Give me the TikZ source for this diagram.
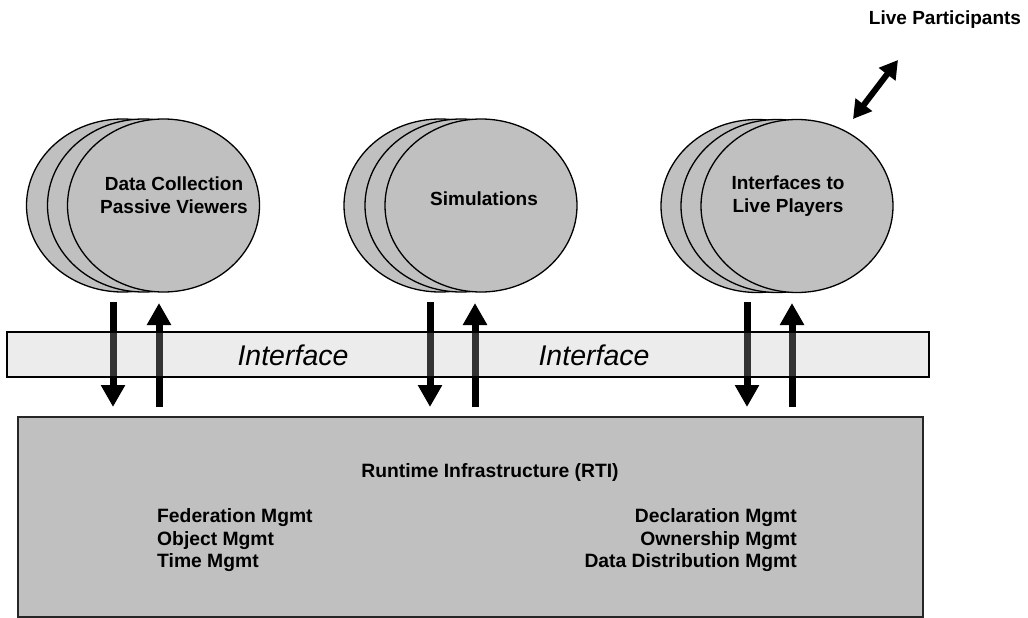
\documentclass[tikz,border=0pt]{standalone}
\usepackage{fontspec}
\setmainfont{Liberation Sans}
\usetikzlibrary{shapes.geometric,arrows.meta}
\definecolor{fedgray}{HTML}{C0C0C0}
\tikzset{
  fed/.style={ellipse, draw=black, line width=1.3pt, fill=fedgray, minimum width=192pt, minimum height=173pt, inner sep=0pt},
  lbl/.style={font=\fontsize{19}{23}\selectfont\bfseries, align=center, inner sep=0pt},
  rtitxt/.style={font=\fontsize{19.3}{22.5}\selectfont\bfseries, inner sep=0pt},
  flow/.style={line width=7pt, -{Triangle[width=23pt,length=22pt]}},
  both/.style={line width=6pt, {Triangle[width=20pt,length=18pt]}-{Triangle[width=20pt,length=18pt]}},
}
\begin{document}
\begin{tikzpicture}[x=1pt,y=-1pt]
\useasboundingbox (0,0) rectangle (1028,618);

% federates
\node[fed] (dc3) at (122.5,205.5) {};
\node[fed] (dc2) at (143.5,205.5) {};
\node[fed] (dc1) at (163.5,205.5) {};
\node[lbl] (dctxt) at (174,195) {Data Collection\\Passive Viewers};

\node[fed] (sim3) at (440,205.5) {};
\node[fed] (sim2) at (461,205.5) {};
\node[fed] (sim1) at (481,205.5) {};
\node[lbl] (simtxt) at (484,199) {Simulations};

\node[fed] (lp3) at (757,206) {};
\node[fed] (lp2) at (777,206) {};
\node[fed] (lp1) at (797,206) {};
\node[lbl] (lptxt) at (788,196.5) {Interfaces to\\Live Players};

\node[lbl, anchor=base] (live) at (945,25) {Live Participants};
\coordinate (liveA) at (853,119);
\coordinate (liveB) at (898,60);
\draw[both] (liveA) -- (liveB);

% RTI box
\node[draw=black!85, line width=1.5pt, fill=fedgray, minimum width=905pt, minimum height=200pt, inner sep=0pt] (rti) at (470.5,517) {};
\node[rtitxt, anchor=base] (rtititle) at (490,477) {Runtime Infrastructure (RTI)};
\node[rtitxt, anchor=west, align=left] (rtileft) at (157,540.5) {Federation Mgmt\\Object Mgmt\\Time Mgmt};
\node[rtitxt, anchor=east, align=right] (rtiright) at (797,540.5) {Declaration Mgmt\\Ownership Mgmt\\Data Distribution Mgmt};

% interface bar
\node[fill=black!9, minimum width=922pt, minimum height=45pt, inner sep=0pt] (bar) at (468,354.5) {};

% arrow end points
\foreach \n/\dx/\ux in {a/113/159, b/430/475, c/747/792}{
  \coordinate (\n dtop) at (\dx,302);
  \coordinate (\n dbot) at (\dx,407);
  \coordinate (\n ubot) at (\ux,407);
  \coordinate (\n utop) at (\ux,303);
}
\foreach \n in {a,b,c}{
  \draw[flow] (\n dtop) -- (\n dbot);
  \draw[flow] (\n ubot) -- (\n utop);
}
\fill[white, opacity=0.2] (bar.north west) rectangle (bar.south east);
\draw[line width=2pt] (bar.north west) rectangle (bar.south east);

\node[font=\fontsize{28.5}{30}\selectfont\itshape, inner sep=0pt, anchor=base] (if1) at (293,365) {Interface};
\node[font=\fontsize{28.5}{30}\selectfont\itshape, inner sep=0pt, anchor=base] (if2) at (594,365) {Interface};
\end{tikzpicture}
\end{document}
